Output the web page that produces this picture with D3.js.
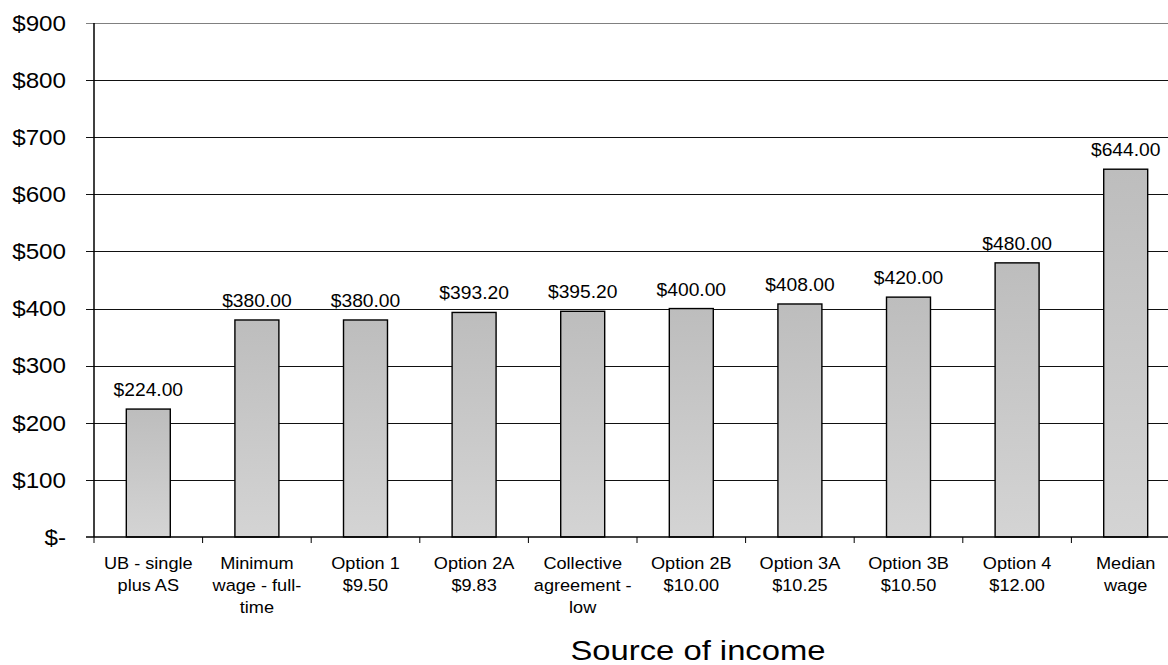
<!DOCTYPE html>
<html>
<head>
<meta charset="utf-8">
<script src="https://cdn.jsdelivr.net/npm/d3@7"></script>
<style>
  html, body { margin: 0; padding: 0; background: #fff; }
  svg { display: block; font-family: "Liberation Sans", Arial, sans-serif; }
</style>
</head>
<body>
<div id="chart"></div>
<script>
// categories (line breaks as in the original axis labels)
var categories = [
  "UB - single\nplus AS",
  "Minimum\nwage - full-\ntime",
  "Option 1\n$9.50",
  "Option 2A\n$9.83",
  "Collective\nagreement -\nlow",
  "Option 2B\n$10.00",
  "Option 3A\n$10.25",
  "Option 3B\n$10.50",
  "Option 4\n$12.00",
  "Median\nwage"
];
var incomeValues = [224, 380, 380, 393.2, 395.2, 400, 408, 420, 480, 644];
var yTicks = [0, 100, 200, 300, 400, 500, 600, 700, 800, 900];
var xTitle = "Source of income";

var width = 1168, height = 665;
// plot area edges (window.top is reserved, so no bare "top")
var plotLeft = 94, plotRight = 1180, plotTop = 23, plotBottom = 537;
var stretch = 1.1; // the original text is a little wider than tall

var svg = d3.select("#chart").append("svg")
  .attr("width", width)
  .attr("height", height);

var defs = svg.append("defs");
var grad = defs.append("linearGradient")
  .attr("id", "barFill")
  .attr("x1", 0).attr("y1", 0).attr("x2", 0).attr("y2", 1);
grad.append("stop").attr("offset", "0%").attr("stop-color", "#bdbdbd");
grad.append("stop").attr("offset", "100%").attr("stop-color", "#d4d4d4");

var x = d3.scaleBand()
  .domain(categories)
  .range([plotLeft, plotRight])
  .paddingInner(0.595)
  .paddingOuter(0.2975);

var y = d3.scaleLinear()
  .domain([0, 900])
  .range([plotBottom, plotTop]);

// gridlines
svg.append("g")
  .selectAll("line")
  .data(yTicks.filter(function (d) { return d > 0; }))
  .enter()
  .append("line")
  .attr("x1", plotLeft - 8)
  .attr("x2", plotRight)
  .attr("y1", function (d) { return Math.round(y(d)) + 0.5; })
  .attr("y2", function (d) { return Math.round(y(d)) + 0.5; })
  .style("stroke", function (d) { return d === 900 ? "#808080" : "#111"; })
  .style("stroke-width", 1);

// y tick labels
var fmtTick = function (d) { return d === 0 ? "$-" : "$" + d; };
svg.append("g")
  .selectAll("text")
  .data(yTicks)
  .enter()
  .append("text")
  .attr("transform", function (d) {
    return "translate(66," + (y(d) + 7.8) + ") scale(" + stretch + ",1)";
  })
  .style("text-anchor", "end")
  .style("font-size", "22px")
  .style("fill", "#000")
  .text(fmtTick);

// bars
svg.append("g")
  .selectAll("rect")
  .data(incomeValues)
  .enter()
  .append("rect")
  .attr("x", function (d, i) { return x(categories[i]); })
  .attr("y", function (d) { return y(d); })
  .attr("width", x.bandwidth())
  .attr("height", function (d) { return y(0) - y(d); })
  .style("fill", "url(#barFill)")
  .style("stroke", "#000")
  .style("stroke-width", 1.4);

// value labels
var fmtVal = d3.format("$,.2f");
svg.append("g")
  .selectAll("text")
  .data(incomeValues)
  .enter()
  .append("text")
  .attr("transform", function (d, i) {
    return "translate(" + (x(categories[i]) + x.bandwidth() / 2) + "," + (y(d) - 13) + ") scale(" + stretch + ",1)";
  })
  .style("text-anchor", "middle")
  .style("font-size", "17.5px")
  .style("fill", "#000")
  .text(fmtVal);

// axes lines
svg.append("line")
  .attr("x1", plotLeft).attr("x2", plotLeft)
  .attr("y1", plotTop).attr("y2", plotBottom)
  .style("stroke", "#000").style("stroke-width", 1.5);
svg.append("line")
  .attr("x1", plotLeft - 8).attr("x2", plotRight)
  .attr("y1", plotBottom).attr("y2", plotBottom)
  .style("stroke", "#000").style("stroke-width", 1.5);

// x tick marks at band boundaries
var step = x.step();
svg.append("g")
  .selectAll("line")
  .data(categories)
  .enter()
  .append("line")
  .attr("x1", function (d) { return x(d) - step * x.paddingInner() / 2; })
  .attr("x2", function (d) { return x(d) - step * x.paddingInner() / 2; })
  .attr("y1", plotBottom)
  .attr("y2", plotBottom + 6)
  .style("stroke", "#000")
  .style("stroke-width", 1);

// category labels
var catG = svg.append("g")
  .selectAll("text")
  .data(categories)
  .enter()
  .append("text")
  .attr("transform", function (d) {
    return "translate(" + (x(d) + x.bandwidth() / 2) + ",569) scale(" + stretch + ",1)";
  })
  .style("text-anchor", "middle")
  .style("font-size", "16.5px")
  .style("fill", "#000");
catG.each(function (d) {
  var t = d3.select(this);
  d.split("\n").forEach(function (line, k) {
    t.append("tspan").attr("x", 0).attr("y", k * 22).text(line);
  });
});

// x axis title
svg.append("text")
  .attr("transform", "translate(698,660) scale(1.15,1)")
  .style("text-anchor", "middle")
  .style("font-size", "28.5px")
  .style("fill", "#000")
  .text(xTitle);
</script>
</body>
</html>
